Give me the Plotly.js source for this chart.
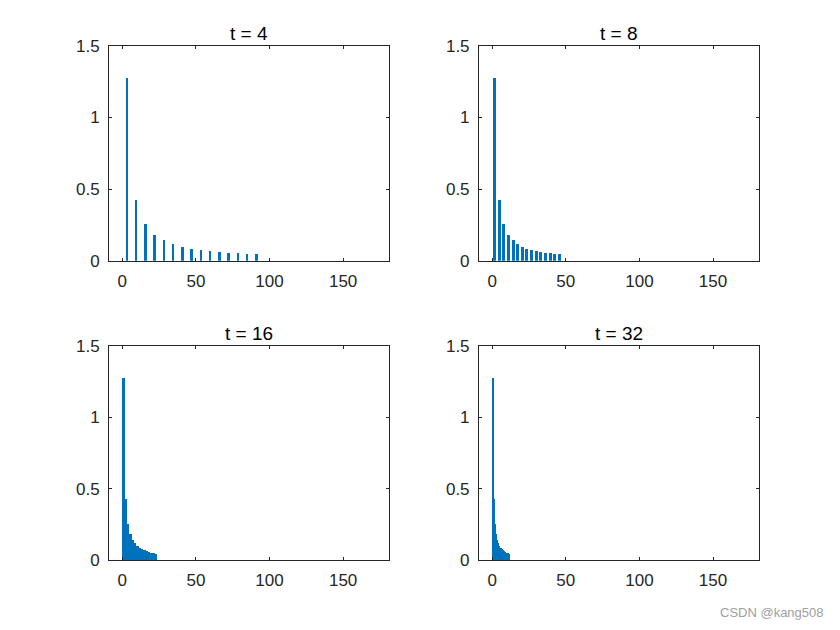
<!DOCTYPE html>
<html>
<head>
<meta charset="utf-8">
<script src="https://cdn.plot.ly/plotly-3.0.1.min.js"></script>
<style>html,body{margin:0;padding:0;background:#fff;}#chart{width:840px;height:630px;}</style>
</head>
<body>
<div id="chart"></div>
<script>
// Panel titles
const panelTitles = ["t = 4", "t = 8", "t = 16", "t = 32"];
// Bar positions (frequency) for each panel
const xT4  = [3.14, 9.42, 15.71, 21.99, 28.27, 34.56, 40.84, 47.12, 53.41, 59.69, 65.97, 72.26, 78.54, 84.82, 91.11];
const xT8  = [1.57, 4.71, 7.85, 11.00, 14.14, 17.28, 20.42, 23.56, 26.70, 29.85, 32.99, 36.13, 39.27, 42.41, 45.55];
const xT16 = [0.79, 2.36, 3.93, 5.50, 7.07, 8.64, 10.21, 11.78, 13.35, 14.92, 16.49, 18.06, 19.63, 21.21, 22.78];
const xT32 = [0.39, 1.18, 1.96, 2.75, 3.53, 4.32, 5.11, 5.89, 6.68, 7.46, 8.25, 9.03, 9.82, 10.60, 11.39];
// Bar heights (amplitudes), same in every panel
const ampT4  = [1.273, 0.424, 0.255, 0.182, 0.141, 0.116, 0.098, 0.085, 0.075, 0.067, 0.061, 0.055, 0.051, 0.047, 0.044];
const ampT8  = [1.273, 0.424, 0.255, 0.182, 0.141, 0.116, 0.098, 0.085, 0.075, 0.067, 0.061, 0.055, 0.051, 0.047, 0.044];
const ampT16 = [1.273, 0.424, 0.255, 0.182, 0.141, 0.116, 0.098, 0.085, 0.075, 0.067, 0.061, 0.055, 0.051, 0.047, 0.044];
const ampT32 = [1.273, 0.424, 0.255, 0.182, 0.141, 0.116, 0.098, 0.085, 0.075, 0.067, 0.061, 0.055, 0.051, 0.047, 0.044];
// Axis tick values
const xTicks = [0, 50, 100, 150];
const yTicks = [0, 0.5, 1, 1.5];

const barColor = '#0072BD';
const axCol = '#262626';
const font = 'Liberation Sans, Arial, Helvetica, sans-serif';

const xs = [xT4, xT8, xT16, xT32];
const ys = [ampT4, ampT8, ampT16, ampT32];
const widths = [1.6, 2.0, 1.8, 1.0];
const axNames = [['x','y'],['x2','y2'],['x3','y3'],['x4','y4']];

const traces = xs.map((x, i) => ({
  type: 'bar', x: x, y: ys[i], width: widths[i],
  xaxis: axNames[i][0], yaxis: axNames[i][1],
  marker: {color: barColor, line: {width: 0}},
  showlegend: false, hoverinfo: 'x+y'
}));

const xDomains = [[0.1298, 0.4635], [0.5702, 0.9039], [0.1298, 0.4635], [0.5702, 0.9039]];
const yDomains = [[0.5862, 0.9275], [0.5862, 0.9275], [0.1111, 0.4513], [0.1111, 0.4513]];

function xAxis(i) {
  return {
    domain: xDomains[i], anchor: axNames[i][1], range: [-9, 181.4],
    tickvals: xTicks, ticktext: xTicks.map(String),
    ticks: 'inside', ticklen: 3, tickcolor: axCol, tickwidth: 1,
    showline: true, linecolor: axCol, linewidth: 1, mirror: 'ticks',
    showgrid: false, zeroline: false,
    tickfont: {family: font, size: 17, color: axCol}, ticklabelstandoff: 5
  };
}
function yAxis(i) {
  return {
    domain: yDomains[i], anchor: axNames[i][0], range: [0, 1.5],
    tickvals: yTicks, ticktext: ['0', '0.5', '1', '1.5'],
    ticks: 'inside', ticklen: 3, tickcolor: axCol, tickwidth: 1,
    showline: true, linecolor: axCol, linewidth: 1, mirror: 'ticks',
    showgrid: false, zeroline: false,
    tickfont: {family: font, size: 17, color: axCol}, ticklabelstandoff: 5
  };
}

const layout = {
  width: 840, height: 630,
  margin: {l: 0, r: 0, t: 0, b: 0},
  paper_bgcolor: '#fff', plot_bgcolor: '#fff',
  showlegend: false,
  annotations: [],
  bargap: 0
};
for (let i = 0; i < 4; i++) {
  const xn = i === 0 ? 'xaxis' : 'xaxis' + (i + 1);
  const yn = i === 0 ? 'yaxis' : 'yaxis' + (i + 1);
  layout[xn] = xAxis(i);
  layout[yn] = yAxis(i);
  layout.annotations.push({
    text: panelTitles[i], showarrow: false,
    xref: 'paper', yref: 'paper',
    x: (xDomains[i][0] + xDomains[i][1]) / 2, y: yDomains[i][1],
    xanchor: 'center', yanchor: 'bottom', yshift: 0,
    font: {family: font, size: 19, color: '#000'}
  });
}
layout.annotations.push({
  text: 'CSDN @kang508', showarrow: false,
  xref: 'paper', yref: 'paper', x: 0.983, y: 0.027,
  xanchor: 'right', yanchor: 'middle',
  font: {family: font, size: 13, color: '#a0a0a0'}
});

Plotly.newPlot('chart', traces, layout, {staticPlot: true, displayModeBar: false});
</script>
</body>
</html>
